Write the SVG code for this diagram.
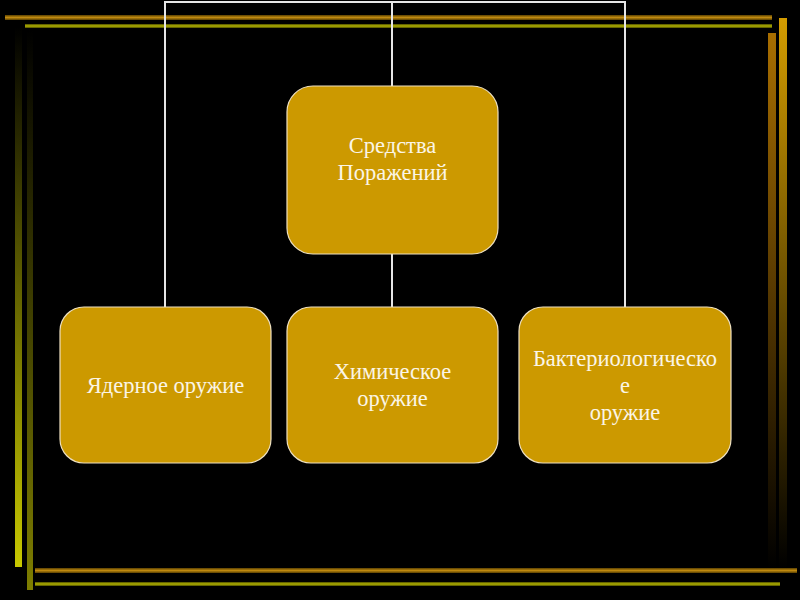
<svg xmlns="http://www.w3.org/2000/svg" width="800" height="600" viewBox="0 0 800 600">
<defs>
<linearGradient id="lv1" x1="0" y1="0" x2="0" y2="1"><stop offset="0" stop-color="#000000"/><stop offset="1" stop-color="#c8c800"/></linearGradient>
<linearGradient id="lv2" x1="0" y1="0" x2="0" y2="1"><stop offset="0" stop-color="#000000"/><stop offset="1" stop-color="#7e7e00"/></linearGradient>
<linearGradient id="rv1" x1="0" y1="0" x2="0" y2="1"><stop offset="0" stop-color="#a86e00"/><stop offset="1" stop-color="#000000"/></linearGradient>
<linearGradient id="rv2" x1="0" y1="0" x2="0" y2="1"><stop offset="0" stop-color="#d49c00"/><stop offset="1" stop-color="#000000"/></linearGradient>
<linearGradient id="hor" x1="0" y1="0" x2="0" y2="1"><stop offset="0" stop-color="#5a4000"/><stop offset="0.5" stop-color="#c08a10"/><stop offset="1" stop-color="#5a4000"/></linearGradient>
<linearGradient id="hye" x1="0" y1="0" x2="0" y2="1"><stop offset="0" stop-color="#4a4a00"/><stop offset="0.5" stop-color="#b4b400"/><stop offset="1" stop-color="#4a4a00"/></linearGradient>
</defs>
<style>
.box{fill:#cc9900;stroke:#eee0c0;stroke-width:1.2}
.t{font-family:"Liberation Serif","Times New Roman",serif;font-size:22.5px;fill:#fbf5e6;text-anchor:middle}
.c{stroke:#e6e6e6;stroke-width:2;fill:none}
</style>
<rect width="800" height="600" fill="#000"/>
<g id="frame">
<rect x="5" y="15" width="767" height="5" fill="url(#hor)"/>
<rect x="25" y="24" width="747" height="4" fill="url(#hye)"/>
<rect x="15" y="27" width="7" height="540" fill="url(#lv1)"/>
<rect x="27" y="30" width="6" height="560" fill="url(#lv2)"/>
<rect x="768" y="33" width="8" height="535" fill="url(#rv1)"/>
<rect x="779" y="18" width="8" height="550" fill="url(#rv2)"/>
<rect x="35" y="568" width="762" height="5" fill="url(#hor)"/>
<rect x="35" y="582" width="745" height="4" fill="url(#hye)"/>
</g>
<g id="connectors">
<path class="c" d="M165,307 V2 H625 V307"/>
<path class="c" d="M392,2 V86"/>
<path class="c" d="M392,254 V307"/>
</g>
<g id="root">
<rect class="box" x="287" y="86" width="211" height="168" rx="26"/>
<text class="t" x="392.5" y="153">Средства</text>
<text class="t" x="392.5" y="180">Поражений</text>
</g>
<g id="nuclear">
<rect class="box" x="60" y="307" width="211" height="156" rx="24"/>
<text class="t" x="165.5" y="393">Ядерное оружие</text>
</g>
<g id="chemical">
<rect class="box" x="287" y="307" width="211" height="156" rx="24"/>
<text class="t" x="392.5" y="379">Химическое</text>
<text class="t" x="392.5" y="406">оружие</text>
</g>
<g id="bio">
<rect class="box" x="519" y="307" width="212" height="156" rx="24"/>
<text class="t" x="625" y="366">Бактериологическо</text>
<text class="t" x="625" y="393">е</text>
<text class="t" x="625" y="420">оружие</text>
</g>
</svg>
